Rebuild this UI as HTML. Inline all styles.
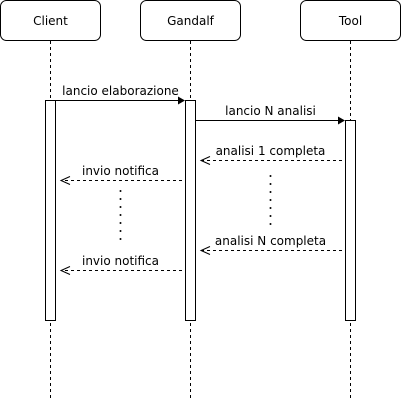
<!DOCTYPE html>
<html><head><meta charset="utf-8"><style>
html,body{margin:0;padding:0;background:#fff;}
svg{display:block;}
text{font-family:"DejaVu Sans","Liberation Sans",sans-serif;font-size:12px;fill:#000;}
</style></head><body>
<svg width="401" height="401" viewBox="0 0 401 401" xmlns="http://www.w3.org/2000/svg">
<g fill="#fff" stroke="#000" stroke-width="1">
<rect x="0.5" y="0.5" width="100" height="40" rx="6"/>
<rect x="140.5" y="0.5" width="100" height="40" rx="6"/>
<rect x="300.5" y="0.5" width="100" height="40" rx="6"/>
</g>
<text x="50.5" y="25" text-anchor="middle">Client</text>
<text x="190.5" y="25" text-anchor="middle">Gandalf</text>
<text x="350.5" y="25" text-anchor="middle">Tool</text>
<g stroke="#000" stroke-dasharray="3,3" fill="none">
<line x1="50.5" y1="41" x2="50.5" y2="401"/>
<line x1="190.5" y1="41" x2="190.5" y2="401"/>
<line x1="350.5" y1="41" x2="350.5" y2="401"/>
</g>
<g fill="#fff" stroke="#000">
<rect x="45.5" y="100.5" width="10" height="220"/>
<rect x="185.5" y="100.5" width="10" height="220"/>
<rect x="345.5" y="120.5" width="10" height="200"/>
</g>
<line x1="55.5" y1="100.5" x2="180" y2="100.5" stroke="#000"/>
<polygon points="185,100.5 178,96.5 178,104.5" fill="#000"/>
<text x="120.5" y="95" text-anchor="middle">lancio elaborazione</text>
<line x1="195.5" y1="120.5" x2="340" y2="120.5" stroke="#000"/>
<polygon points="345,120.5 338,116.5 338,124.5" fill="#000"/>
<text x="270.5" y="115" text-anchor="middle">lancio N analisi</text>
<g stroke="#000" fill="none">
<line x1="342" y1="160.5" x2="202" y2="160.5" stroke-dasharray="3,3"/>
<polyline points="210,156.5 201,160.5 210,164.5"/>
<line x1="182" y1="180.5" x2="62" y2="180.5" stroke-dasharray="3,3"/>
<polyline points="70,176.5 61,180.5 70,184.5"/>
<line x1="342" y1="250.5" x2="202" y2="250.5" stroke-dasharray="3,3"/>
<polyline points="210,246.5 201,250.5 210,254.5"/>
<line x1="182" y1="270.5" x2="62" y2="270.5" stroke-dasharray="3,3"/>
<polyline points="70,266.5 61,270.5 70,274.5"/>
</g>
<text x="270.5" y="155" text-anchor="middle">analisi 1 completa</text>
<text x="120.5" y="175" text-anchor="middle">invio notifica</text>
<text x="270.5" y="245" text-anchor="middle">analisi N completa</text>
<text x="120.5" y="265" text-anchor="middle">invio notifica</text>
<g fill="#000">
<circle cx="120.5" cy="191" r="1"/><circle cx="120.5" cy="199" r="1"/><circle cx="120.5" cy="207" r="1"/><circle cx="120.5" cy="215" r="1"/><circle cx="120.5" cy="223" r="1"/><circle cx="120.5" cy="231" r="1"/><circle cx="120.5" cy="239" r="1"/>
<circle cx="270.5" cy="176" r="1"/><circle cx="270.5" cy="184" r="1"/><circle cx="270.5" cy="192" r="1"/><circle cx="270.5" cy="200" r="1"/><circle cx="270.5" cy="208" r="1"/><circle cx="270.5" cy="216" r="1"/><circle cx="270.5" cy="224" r="1"/>
</g>
</svg>
</body></html>
